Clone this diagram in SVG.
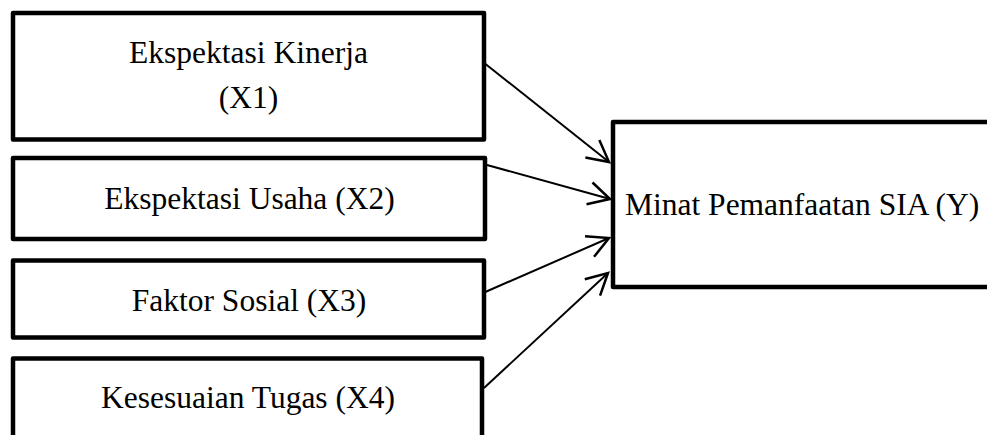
<svg xmlns="http://www.w3.org/2000/svg" width="987" height="435" viewBox="0 0 987 435">
<style>
.box{fill:#fff;stroke:#000;stroke-width:4.5;stroke-linejoin:round}
.t{font-family:"Liberation Serif","Times New Roman",serif;font-size:31.5px;fill:#000}
.c{text-anchor:middle}
.con{stroke:#000;stroke-width:2;fill:none}
</style>
<defs>
<marker id="ah" markerUnits="userSpaceOnUse" markerWidth="30" markerHeight="30" refX="0" refY="0" viewBox="-20 -12 22 24" orient="auto">
<path d="M-17,-9 L0,0 L-17,9" fill="none" stroke="#000" stroke-width="2" stroke-linejoin="miter"/>
</marker>
</defs>
<rect width="987" height="435" fill="#fff"/>
<g id="x1">
<rect class="box" x="13" y="13" width="471" height="126.5"/>
<text class="t c" x="248.5" y="63">Ekspektasi Kinerja</text>
<text class="t c" x="248.5" y="108">(X1)</text>
</g>
<g id="x2">
<rect class="box" x="13" y="158" width="472" height="81"/>
<text class="t c" x="249.5" y="209">Ekspektasi Usaha (X2)</text>
</g>
<g id="x3">
<rect class="box" x="13" y="260.5" width="471" height="77"/>
<text class="t c" x="249" y="311">Faktor Sosial (X3)</text>
</g>
<g id="x4">
<rect class="box" x="13" y="358.5" width="469" height="90"/>
<text class="t c" x="248" y="408">Kesesuaian Tugas (X4)</text>
</g>
<g id="y">
<rect class="box" x="613" y="122" width="390" height="165"/>
<text class="t" x="625" y="215">Minat Pemanfaatan SIA (Y)</text>
</g>
<g id="connectors">
<line class="con" x1="483" y1="62" x2="609" y2="162" marker-end="url(#ah)"/>
<line class="con" x1="487" y1="165" x2="610" y2="199" marker-end="url(#ah)"/>
<line class="con" x1="483" y1="293" x2="609" y2="238" marker-end="url(#ah)"/>
<line class="con" x1="484" y1="388" x2="608" y2="273" marker-end="url(#ah)"/>
</g>
</svg>
